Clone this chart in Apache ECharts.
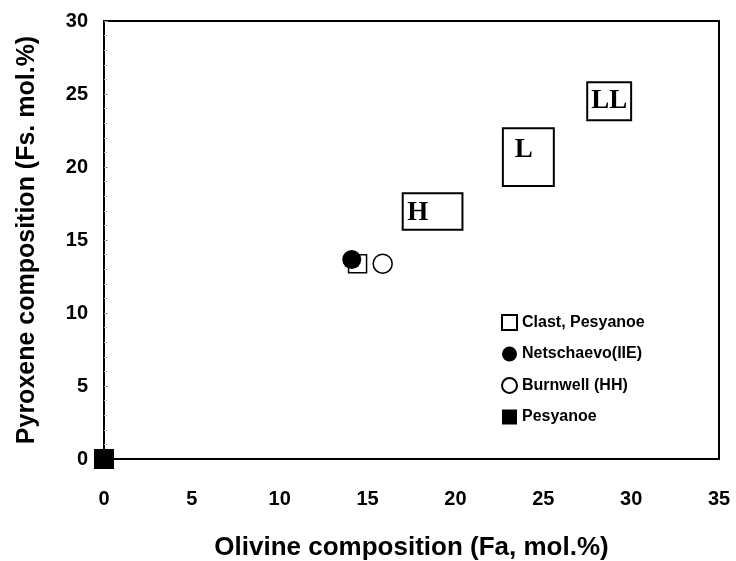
<!DOCTYPE html>
<html lang="en">
<head>
    <meta charset="UTF-8">
    <title>Olivine vs Pyroxene</title>
    <style>
        html, body { margin: 0; padding: 0; background: #fff; }
        #chart { width: 736px; height: 561px; }
    </style>
</head>
<body>
    <div id="chart"></div>
</body>
<script type="text/javascript" src="https://cdn.jsdelivr.net/npm/echarts@6/dist/echarts.min.js"></script>
<script type="text/javascript">
    // chondrite group fields: [Fa min, Fa max, Fs min, Fs max]
    var groupNames = ['H', 'L', 'LL'];
    var groupBoxes = [
        [17.0, 20.4, 15.7, 18.2],
        [22.7, 25.6, 18.7, 22.65],
        [27.5, 30.0, 23.2, 25.8]
    ];

    // samples [Fa, Fs]
    var clast = [[14.43, 13.38]];
    var netschaevo = [[14.1, 13.66]];
    var burnwell = [[15.86, 13.38]];
    var pesyanoe = [[0, 0]];

    var xTicks = [0, 35, 5];
    var yTicks = [0, 30, 5];

    var sansFont = '"Liberation Sans", Arial, sans-serif';
    var serifFont = '"Liberation Serif", "Times New Roman", serif';

    // where the letter sits inside each box (fraction of width/height)
    var labelPos = [[0.25, 0.55], [0.41, 0.38], [0.5, 0.5]];

    function renderBox(params, api) {
        var x0 = api.value(0), x1 = api.value(1), y0 = api.value(2), y1 = api.value(3);
        var p0 = api.coord([x0, y1]);
        var p1 = api.coord([x1, y0]);
        var w = p1[0] - p0[0], h = p1[1] - p0[1];
        var lp = labelPos[params.dataIndex];
        return {
            type: 'group',
            children: [{
                type: 'rect',
                shape: { x: p0[0], y: p0[1], width: w, height: h },
                style: { fill: '#fff', stroke: '#000', lineWidth: 2 }
            }, {
                type: 'text',
                x: p0[0] + w * lp[0],
                y: p0[1] + h * lp[1],
                style: {
                    text: groupNames[params.dataIndex],
                    font: 'bold 27px ' + serifFont,
                    fill: '#000',
                    align: 'center',
                    verticalAlign: 'middle'
                }
            }]
        };
    }

    var option = {
        animation: false,
        backgroundColor: '#fff',
        textStyle: { fontFamily: sansFont },
        grid: {
            left: 104, top: 21, right: 17, bottom: 102,
            outerBoundsMode: 'none',
            show: true, borderColor: '#000', borderWidth: 2
        },
        legend: {
            orient: 'vertical',
            left: 496,
            top: 309,
            itemWidth: 15,
            itemHeight: 15,
            itemGap: 15,
            textStyle: { fontSize: 16, fontWeight: 'bold', color: '#000', fontFamily: sansFont },
            data: ['Clast, Pesyanoe', 'Netschaevo(IIE)', 'Burnwell (HH)', 'Pesyanoe']
        },
        xAxis: {
            type: 'value',
            min: xTicks[0], max: xTicks[1], interval: xTicks[2],
            name: 'Olivine composition (Fa, mol.%)',
            nameLocation: 'middle',
            nameGap: 76,
            nameTextStyle: { fontSize: 26, fontWeight: 'bold', color: '#000' },
            axisLine: { show: true, lineStyle: { color: '#000', width: 2 } },
            axisTick: { show: false },
            splitLine: { show: false },
            axisLabel: { fontSize: 20, fontWeight: 'bold', color: '#000', margin: 30 }
        },
        yAxis: {
            type: 'value',
            min: yTicks[0], max: yTicks[1], interval: yTicks[2],
            name: 'Pyroxene composition (Fs. mol.%)',
            nameLocation: 'middle',
            nameGap: 64,
            nameTextStyle: { fontSize: 25, fontWeight: 'bold', color: '#000' },
            axisLine: { show: true, lineStyle: { color: '#000', width: 2 } },
            axisTick: { show: true, inside: true, length: 4, lineStyle: { color: '#999' } },
            minorTick: { show: true, splitNumber: 5, length: 3, lineStyle: { color: '#bbb' } },
            splitLine: { show: false },
            axisLabel: { fontSize: 20, fontWeight: 'bold', color: '#000', margin: 16 }
        },
        series: [{
            type: 'custom',
            renderItem: renderBox,
            data: groupBoxes,
            encode: { x: [0, 1], y: [2, 3] },
            z: 1,
            silent: true
        }, {
            name: 'Clast, Pesyanoe',
            type: 'scatter',
            symbol: 'rect',
            symbolSize: 18,
            itemStyle: { color: '#fff', borderColor: '#000', borderWidth: 1.5, opacity: 1 },
            data: clast,
            z: 3
        }, {
            name: 'Netschaevo(IIE)',
            type: 'scatter',
            symbol: 'circle',
            symbolSize: 19,
            itemStyle: { color: '#000', opacity: 1 },
            data: netschaevo,
            z: 4
        }, {
            name: 'Burnwell (HH)',
            type: 'scatter',
            symbol: 'circle',
            symbolSize: 19,
            itemStyle: { color: '#fff', borderColor: '#000', borderWidth: 1.5, opacity: 1 },
            data: burnwell,
            z: 3
        }, {
            name: 'Pesyanoe',
            type: 'scatter',
            symbol: 'rect',
            symbolSize: 20,
            clip: false,
            itemStyle: { color: '#000', opacity: 1 },
            data: pesyanoe,
            z: 5
        }]
    };

    var myChart = echarts.init(document.getElementById('chart'));
    myChart.setOption(option);
</script>
</html>
